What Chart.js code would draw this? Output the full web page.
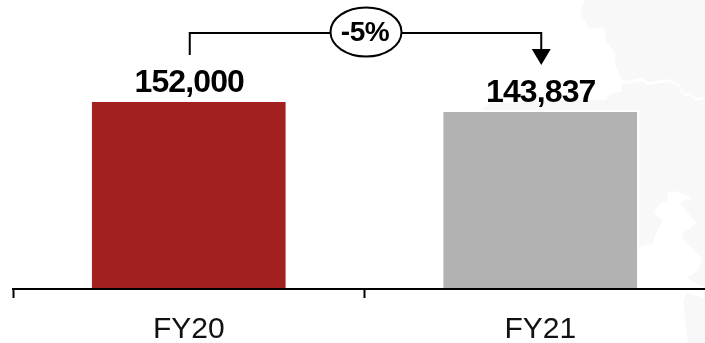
<!DOCTYPE html>
<html>
<head>
<meta charset="utf-8">
<title>FY20 vs FY21</title>
<script src="https://cdn.jsdelivr.net/npm/chart.js@4"></script>
<style>
  html, body { margin: 0; padding: 0; background: #fff; overflow: hidden; width: 705px; height: 343px; }
  canvas { display: block; }
</style>
</head>
<body>
<!-- wider than the window: the axis runs past the right edge -->
<canvas id="fyChart" width="730" height="343"></canvas>
<script>
const categories = ['FY20', 'FY21'];
const totals = [152000, 143837];
const barColors = ['#a32020', '#b2b2b2'];
const axisMax = 235300;

// faint backdrop map behind the bars
const mapNorth = [[585,0],[580,13],[589,28],[604,28],[606,42],[615,53],[615,63],[621,79],[628,81],[642,78],[648,82],[668,79],[680,85],[685,94],[690,92],[696,98],[705,97],[705,0]];
const mapSouth = [[621,83],[622,92],[610,94],[605,100],[595,100],[490,103],[483,108],[470,120],[470,247],[639,247],[653,243],[656,233],[663,220],[654,213],[658,205],[668,200],[667,193],[675,191],[692,198],[680,202],[685,210],[697,223],[683,233],[683,240],[702,258],[698,270],[687,278],[695,283],[705,287],[705,99],[696,101],[690,95],[685,97],[680,87],[668,82],[648,85],[642,81],[628,84]];
const mapIsland = [[687,293],[705,298],[705,343],[688,343],[683,300]];

function fillShape(ctx, pts) {
  ctx.beginPath();
  pts.forEach((p, i) => i ? ctx.lineTo(p[0], p[1]) : ctx.moveTo(p[0], p[1]));
  ctx.closePath();
  ctx.fill();
}

const backdrop = {
  id: 'backdrop',
  beforeDraw(chart) {
    const ctx = chart.ctx;
    ctx.save();
    ctx.fillStyle = '#f8f8f8';
    [mapNorth, mapSouth, mapIsland].forEach(s => fillShape(ctx, s));
    ctx.restore();
  },
  // thin white edge so the bars stand off the map
  beforeDatasetsDraw(chart) {
    const ctx = chart.ctx;
    ctx.save();
    ctx.fillStyle = '#fff';
    chart.getDatasetMeta(0).data.forEach(bar => {
      ctx.fillRect(bar.x - bar.width / 2 - 2, bar.y - 2, bar.width + 4, bar.base - bar.y);
    });
    ctx.restore();
  }
};

const valueLabels = {
  id: 'valueLabels',
  afterDatasetsDraw(chart) {
    const ctx = chart.ctx;
    ctx.save();
    ctx.fillStyle = '#000';
    ctx.font = 'bold 32px "Liberation Sans", Arial, sans-serif';
    ctx.letterSpacing = '-0.9px';
    ctx.textAlign = 'center';
    ctx.textBaseline = 'alphabetic';
    chart.getDatasetMeta(0).data.forEach((bar, i) => {
      ctx.fillText(totals[i].toLocaleString('en-US'), bar.x + 0.5, bar.y - 10);
    });
    ctx.restore();
  }
};

// change bracket between the two bars
const changeBracket = {
  id: 'changeBracket',
  afterDraw(chart) {
    const ctx = chart.ctx;
    const bars = chart.getDatasetMeta(0).data;
    const x0 = bars[0].x + 1;
    const x1 = bars[1].x + 1;
    const y = 33;
    ctx.save();
    ctx.strokeStyle = '#000';
    ctx.lineWidth = 2;
    ctx.beginPath();
    ctx.moveTo(x0, 55);
    ctx.lineTo(x0, y);
    ctx.lineTo(x1, y);
    ctx.lineTo(x1, 50);
    ctx.stroke();

    ctx.fillStyle = '#000';
    ctx.beginPath();
    ctx.moveTo(x1 - 9.5, 49);
    ctx.lineTo(x1 + 9.5, 49);
    ctx.lineTo(x1, 65);
    ctx.closePath();
    ctx.fill();

    ctx.fillStyle = '#fff';
    ctx.beginPath();
    ctx.ellipse(366, 32, 35.5, 24.5, 0, 0, Math.PI * 2);
    ctx.fill();
    ctx.stroke();

    const pct = Math.round((totals[1] / totals[0] - 1) * 100);
    ctx.fillStyle = '#000';
    ctx.font = 'bold 28px "Liberation Sans", Arial, sans-serif';
    ctx.letterSpacing = '-0.5px';
    ctx.textAlign = 'center';
    ctx.textBaseline = 'middle';
    ctx.fillText(pct + '%', 365, 33);
    ctx.restore();
  }
};

new Chart(document.getElementById('fyChart'), {
  type: 'bar',
  data: {
    labels: categories,
    datasets: [{
      data: totals,
      backgroundColor: barColors,
      borderWidth: 0,
      barThickness: 193
    }]
  },
  options: {
    responsive: false,
    animation: false,
    layout: { padding: { left: 13, right: 14, top: 0, bottom: 0 } },
    plugins: { legend: { display: false }, tooltip: { enabled: false } },
    scales: {
      x: {
        afterFit(scale) { scale.height = 54; },
        border: { display: true, color: '#000', width: 2, z: 1 },
        grid: {
          offset: true,
          drawOnChartArea: false,
          drawTicks: true,
          tickLength: 9,
          tickWidth: 2,
          tickColor: '#000'
        },
        ticks: {
          color: '#111',
          padding: 14,
          maxRotation: 0,
          font: { family: '"Liberation Sans", Arial, sans-serif', size: 30 }
        }
      },
      y: { display: false, min: 0, max: axisMax }
    }
  },
  plugins: [backdrop, valueLabels, changeBracket]
});
</script>
</body>
</html>
